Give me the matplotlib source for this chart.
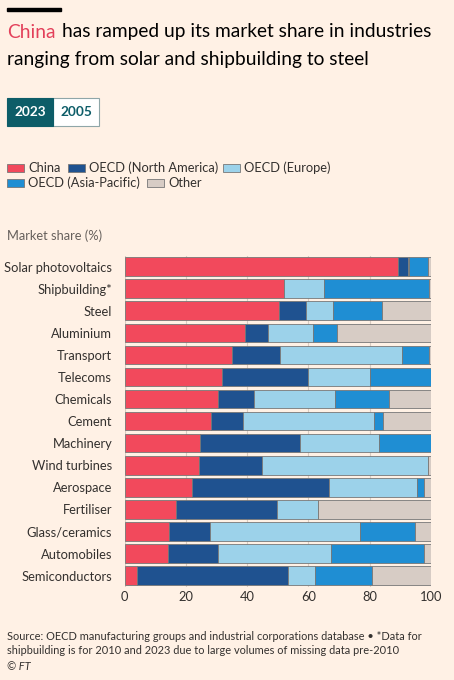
import matplotlib
matplotlib.use("Agg")
import matplotlib.pyplot as plt
from matplotlib.patches import Rectangle
import numpy as np

plt.rcParams['font.family'] = ['Lato', 'DejaVu Sans']

categories = ["Solar photovoltaics", "Shipbuilding*", "Steel", "Aluminium", "Transport",
              "Telecoms", "Chemicals", "Cement", "Machinery", "Wind turbines",
              "Aerospace", "Fertiliser", "Glass/ceramics", "Automobiles", "Semiconductors"]
series_names = ["China", "OECD (North America)", "OECD (Europe)", "OECD (Asia-Pacific)", "Other"]
china    = [89.3, 52.1, 50.4, 39.4, 35.1, 31.8, 30.5, 28.3, 24.6, 24.2, 22.0, 16.8, 14.4, 14.0, 4.0]
north_am = [3.3, 0.0, 8.8, 7.4, 15.7, 28.0, 11.8, 10.4, 32.7, 20.7, 44.6, 32.8, 13.6, 16.6, 49.4]
europe   = [0.3, 13.0, 8.7, 14.6, 39.8, 20.3, 26.4, 42.7, 25.7, 54.0, 28.9, 13.6, 48.8, 36.6, 8.8]
asia_pac = [6.2, 34.4, 16.0, 7.9, 8.9, 19.9, 17.5, 2.8, 16.9, 0.0, 2.3, 0.0, 18.0, 30.6, 18.4]
other    = [0.9, 0.5, 16.1, 30.7, 0.5, 0.0, 13.8, 15.8, 0.1, 1.1, 2.2, 36.8, 5.2, 2.2, 19.4]
xticks = [0, 20, 40, 60, 80, 100]

colors = ["#F2495C", "#1F5290", "#9CD2EA", "#1F8ED3", "#D7CCC5"]
bg = "#FFF1E5"

W, H = 454, 680
fig = plt.figure(figsize=(W / 100, H / 100), dpi=100, facecolor=bg)

def fx(px):
    return px / W

def fy(py):
    return 1 - py / H

ax = fig.add_axes([fx(124.7), fy(586.7), fx(431) - fx(124.7), fy(255.5) - fy(586.7)])
ax.set_facecolor(bg)

data = [china, north_am, europe, asia_pac, other]
y = np.arange(len(categories))
left = np.zeros(len(categories))
for vals, col, name in zip(data, colors, series_names):
    vals = np.array(vals)
    ax.barh(y, vals, left=left, height=0.84, color=col, edgecolor="#777777",
            linewidth=0.6, label=name, zorder=3)
    left += vals

ax.set_ylim(len(categories) - 0.5, -0.5)
ax.set_xlim(0, 100)
ax.set_yticks(y)
ax.set_yticklabels(categories, fontsize=9.3, color="#33302E")
ax.set_xticks(xticks)
ax.set_xticklabels([str(t) for t in xticks], fontsize=9.3, color="#33302E")
ax.tick_params(axis='x', length=0, pad=3)
ax.tick_params(axis='y', length=0, pad=9)
for s in ax.spines.values():
    s.set_visible(False)
ax.grid(axis='x', color="#D9CCC1", linewidth=0.8, zorder=0)

# Top rule
fig.patches.append(Rectangle((fx(7), fy(10.5)), fx(61) - fx(7), 3 / H,
                             transform=fig.transFigure, color="#000000"))
# Title
tsize = 13.75
renderer = fig.canvas.get_renderer()
tc = fig.text(fx(7), fy(32), "China", color="#E3405A", fontsize=tsize, va='center', ha='left')
bb = tc.get_window_extent(renderer=renderer)
fig.text(fx(bb.x1 + 6), fy(32), "has ramped up its market share in industries",
         color="#000000", fontsize=tsize, va='center', ha='left')
fig.text(fx(7), fy(60), "ranging from solar and shipbuilding to steel",
         color="#000000", fontsize=tsize, va='center', ha='left')

# Buttons
fig.patches.append(Rectangle((fx(53), fy(126)), fx(99) - fx(53), 28 / H,
                             transform=fig.transFigure, facecolor="#FFFFFF",
                             edgecolor="#8FA6A8", linewidth=0.8))
fig.patches.append(Rectangle((fx(7), fy(126)), fx(53) - fx(7), 28 / H,
                             transform=fig.transFigure, facecolor="#0D5D68",
                             edgecolor="#0D5D68", linewidth=0.8))
fig.text(fx(30), fy(112), "2023", color="white", fontsize=9.8, ha='center', va='center',
         fontweight='bold')
fig.text(fx(76), fy(112), "2005", color="#0D5D68", fontsize=9.8, ha='center', va='center',
         fontweight='bold')

# Legend
leg_items = [(0, 7, 168), (1, 68, 168), (2, 223, 168), (3, 7, 183), (4, 147, 183)]
for idx, px, py in leg_items:
    fig.patches.append(Rectangle((fx(px), fy(py + 4)), 17 / W, 8 / H,
                                 transform=fig.transFigure, facecolor=colors[idx],
                                 edgecolor="#777777", linewidth=0.6))
    fig.text(fx(px + 21), fy(py), series_names[idx], fontsize=9.3, color="#33302E",
             ha='left', va='center')

fig.text(fx(7), fy(236), "Market share (%)", fontsize=9.3, color="#66605C",
         ha='left', va='center')

# Footer
fig.text(fx(7), fy(637), "Source: OECD manufacturing groups and industrial corporations database \u2022 *Data for",
         fontsize=7.9, color="#33302E", ha='left', va='center')
fig.text(fx(7), fy(651), "shipbuilding is for 2010 and 2023 due to large volumes of missing data pre-2010",
         fontsize=7.9, color="#33302E", ha='left', va='center')
fig.text(fx(7), fy(666), "\u00a9 FT", fontsize=7.9, color="#33302E", ha='left', va='center',
         style='italic')

fig.savefig("out.png", dpi=100, facecolor=bg)
